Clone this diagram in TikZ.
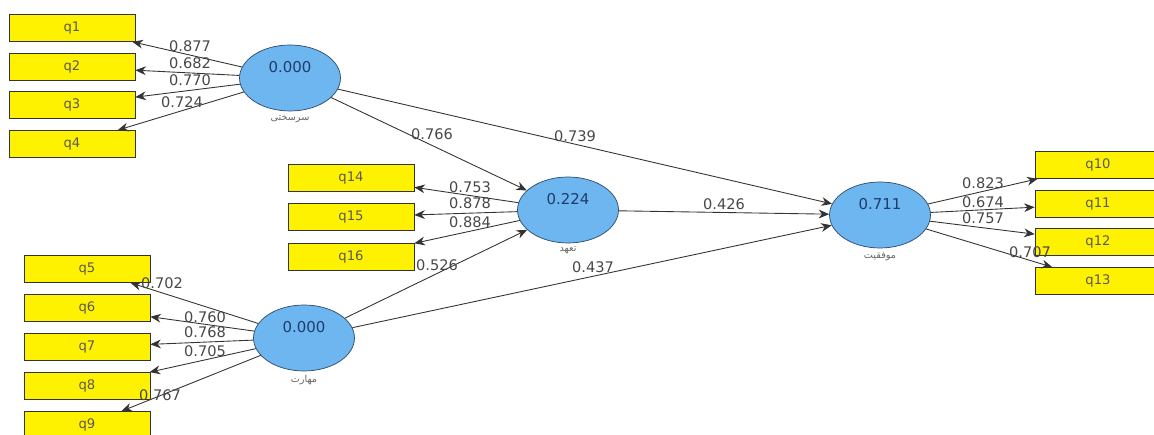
\documentclass[tikz,border=0pt]{standalone}
\usepackage{fontspec}
\setmainfont{DejaVu Sans}
\newfontfamily\arabicfont[Script=Arabic]{DejaVu Sans}
\TeXXeTstate=1
\usetikzlibrary{shapes.geometric,arrows.meta,positioning}
\definecolor{lvfill}{HTML}{6DB6EF}
\definecolor{lvdraw}{HTML}{2E4A6B}
\definecolor{lvtext}{HTML}{1E3C6C}
\definecolor{lntext}{HTML}{484848}
\begin{document}
\begin{tikzpicture}[x=0.02cm,y=-0.02cm,
		ind/.style={rectangle,draw=black!80,fill=yellow,minimum width=2.52cm,minimum height=0.54cm,
			inner sep=0,text=black!65,font=\fontsize{7.5}{9}\selectfont},
		lv/.style={ellipse,draw=lvdraw,fill=lvfill,minimum width=2.02cm,minimum height=1.32cm,
			inner sep=0,text depth=12pt,text=lvtext,font=\fontsize{8.5}{9}\selectfont},
		lvname/.style={inner sep=2pt,text=black!60,font=\arabicfont\fontsize{5.5}{6}\selectfont},
		ld/.style={inner sep=0,text=lntext,font=\fontsize{8.3}{9}\selectfont},
		arr/.style={-{Stealth[length=6pt,width=5pt]},draw=black!80,line width=0.5pt}]
		\clip (0,0) rectangle (1154,435);
		\fill[white] (0,0) rectangle (1154,435);
		% indicators
		\node[ind] (q1) at (72,28) {q1};
		\node[ind] (q2) at (72,67) {q2};
		\node[ind] (q3) at (72,105) {q3};
		\node[ind] (q4) at (72,144) {q4};
		\node[ind] (q14) at (351,178) {q14};
		\node[ind] (q15) at (351,217) {q15};
		\node[ind] (q16) at (351,257) {q16};
		\node[ind] (q5) at (87,269) {q5};
		\node[ind] (q6) at (87,308) {q6};
		\node[ind] (q7) at (87,347) {q7};
		\node[ind] (q8) at (87,386) {q8};
		\node[ind] (q9) at (87,425) {q9};
		\node[ind] (q10) at (1098,165) {q10};
		\node[ind] (q11) at (1098,204) {q11};
		\node[ind] (q12) at (1098,242) {q12};
		\node[ind] (q13) at (1098,281) {q13};
		% latent variables
		\node[lv] (e1) at (290,78) {0.000};
		\node[lv] (e2) at (568,210) {0.224};
		\node[lv] (e3) at (304,338) {0.000};
		\node[lv] (e4) at (880,215) {0.711};
		\node[lvname,below=0pt of e1] (e1n) {\beginR سرسختی\endR};
		\node[lvname,below=0pt of e2] (e2n) {\beginR تعهد\endR};
		\node[lvname,below=0pt of e3] (e3n) {\beginR مهارت\endR};
		\node[lvname,below=0pt of e4] (e4n) {\beginR موفقیت\endR};
		% outer model
		\draw[arr] (e1)--(q1); \draw[arr] (e1)--(q2); \draw[arr] (e1)--(q3); \draw[arr] (e1)--(q4);
		\draw[arr] (e2)--(q14); \draw[arr] (e2)--(q15); \draw[arr] (e2)--(q16);
		\draw[arr] (e3)--(q5); \draw[arr] (e3)--(q6); \draw[arr] (e3)--(q7);
		\draw[arr] (e3)--(q8); \draw[arr] (e3)--(q9);
		\draw[arr] (e4)--(q10); \draw[arr] (e4)--(q11); \draw[arr] (e4)--(q12); \draw[arr] (e4)--(q13);
		% inner model
		\draw[arr] (e1)--(e2); \draw[arr] (e1)--(e4); \draw[arr] (e2)--(e4);
		\draw[arr] (e3)--(e2); \draw[arr] (e3)--(e4);
		% coefficients
		\node[ld] (l1) at (190,46) {0.877};
		\node[ld] (l2) at (190,63) {0.682};
		\node[ld] (l3) at (190,80) {0.770};
		\node[ld] (l4) at (182,102) {0.724};
		\node[ld] (l14) at (470,187) {0.753};
		\node[ld] (l15) at (470,203) {0.878};
		\node[ld] (l16) at (470,222) {0.884};
		\node[ld] (l5) at (162,283) {0.702};
		\node[ld] (l6) at (205,317) {0.760};
		\node[ld] (l7) at (205,332) {0.768};
		\node[ld] (l8) at (205,351) {0.705};
		\node[ld] (l9) at (160,395) {0.767};
		\node[ld] (l10) at (983,183) {0.823};
		\node[ld] (l11) at (983,202) {0.674};
		\node[ld] (l12) at (983,218) {0.757};
		\node[ld] (l13) at (1030,252) {0.707};
		\node[ld] (p12) at (432,134) {0.766};
		\node[ld] (p14) at (575,136) {0.739};
		\node[ld] (p24) at (724,204) {0.426};
		\node[ld] (p32) at (437,265) {0.526};
		\node[ld] (p34) at (593,267) {0.437};
	\end{tikzpicture}
\end{document}
